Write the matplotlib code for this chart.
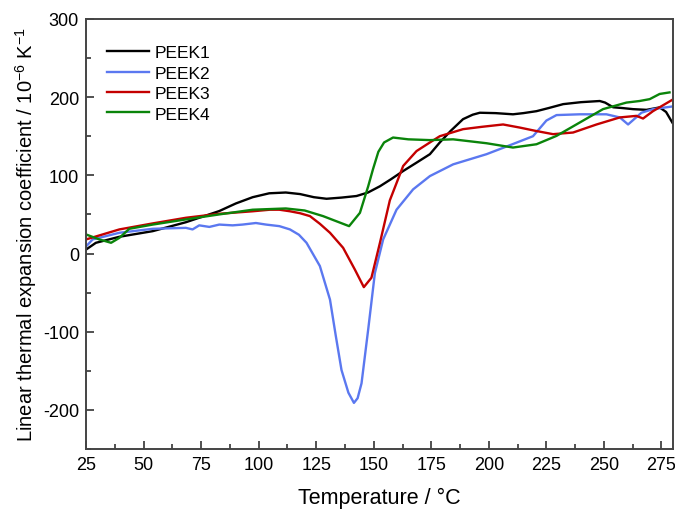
import matplotlib
matplotlib.use("Agg")
import matplotlib.pyplot as plt
from matplotlib.ticker import MultipleLocator

plt.rcParams['font.family'] = ['Liberation Sans', 'DejaVu Sans']
plt.rcParams['mathtext.fontset'] = 'custom'
plt.rcParams['mathtext.rm'] = 'Liberation Sans'
plt.rcParams['axes.unicode_minus'] = False

# Curves (temperature in C, CTE in 1e-6/K)
t1 = [25, 29.3, 39.5, 54, 68.4, 82.9, 90.1, 97.4, 104.6, 111.8, 118, 124, 129.5, 136, 142.5, 147.5, 152.7,
      157.5, 162.8, 168.5, 174.4, 178.7, 183.5, 188.8, 193, 196.1, 203, 210.5, 215, 220.7, 226, 232.3, 240,
      248.2, 250.5, 254, 258, 262.6, 268.5, 274.2, 277, 279.7]
peek1 = [5, 13.7, 21.4, 28.6, 40, 54.3, 64, 72, 77, 78, 76, 72, 70, 71.5, 73.5, 78, 86,
         95, 105.5, 116, 127, 142, 157, 171.8, 177.5, 180, 179.5, 178, 179.5, 182, 186, 191, 193.5,
         195, 193, 187, 186, 184.6, 183.7, 186.8, 181, 167.5]

t2 = [25, 27.9, 39.5, 54, 68.4, 71.3, 74.2, 78.6, 82.9, 88.7, 93, 98.8, 103.2, 109, 113.6, 117.5, 120.8,
      126.6, 131, 133.5, 136, 139, 141.4, 143, 144.7, 147.6, 150.5, 154.1, 159.9, 167.1, 174.4, 184.5, 199,
      210.5, 219.2, 225, 229.4, 239.5, 251.1, 256.9, 260.5, 266.3, 271.3, 279.7]
peek2 = [9, 18, 26.5, 31.6, 32.8, 30.8, 36, 34, 37, 36, 37, 39, 37, 35, 30.8, 24, 13.7,
         -16, -59, -105, -149, -178, -191, -185, -166, -97, -25, 18, 56, 82, 99, 114, 127,
         140, 150, 170, 177, 178, 178, 174, 165, 180, 184.6, 188]

t3 = [25, 39.5, 54, 68.4, 82.9, 97.4, 104.9, 109, 113.6, 118, 122.3, 126.6, 131, 136.7, 141.8, 145.7,
      149, 152.7, 157, 162.8, 168.6, 174.4, 178.7, 188.8, 197, 206.2, 213.5, 220, 227.9, 236.6, 246.8,
      256.9, 264.1, 267, 271.3, 279.7]
peek3 = [18, 30.8, 38.5, 45.7, 50.8, 54, 56, 56, 54, 51.5, 47.8, 38, 26.5, 7.3, -20.5, -43,
         -31, 13.7, 68, 112, 131, 142, 150, 159, 162, 165, 161, 157, 152.6, 154.7, 165,
         174, 176, 172.6, 182, 196.5]

t4 = [25, 30.8, 35.9, 39.5, 43.8, 54, 68.4, 82.9, 97.4, 111.8, 120, 128, 134, 139.3, 144, 147.6,
      149.7, 152, 154.5, 158.4, 165, 174.4, 184.5, 199, 210.5, 220.7, 229.4, 239.5, 249.6, 259.8,
      265.5, 269.9, 274.2, 278.5]
peek4 = [24.4, 18, 13.7, 20, 31.6, 37, 43.6, 50, 56, 57.6, 55, 47.8, 41, 35, 52, 86,
         108, 130, 142, 148.3, 146, 145, 146, 141, 135.5, 139.7, 150.4, 167.5, 184.6, 193,
         195, 197.4, 204, 206]

names = ['PEEK1', 'PEEK2', 'PEEK3', 'PEEK4']
colors = ['#000000', '#5b78f0', '#c40000', '#0a840a']

fig = plt.figure(figsize=(6.75, 5.1), dpi=100)
ax = fig.add_axes([0.1274, 0.1176, 0.8696, 0.8434])

for t, v, name, c in zip([t1, t2, t3, t4], [peek1, peek2, peek3, peek4], names, colors):
    ax.plot(t, v, color=c, lw=1.7, label=name)

ax.set_xlim(25, 280)
ax.set_ylim(-250, 300)
ax.xaxis.set_major_locator(MultipleLocator(25))
ax.xaxis.set_minor_locator(MultipleLocator(12.5))
ax.yaxis.set_major_locator(MultipleLocator(100))
ax.yaxis.set_minor_locator(MultipleLocator(50))
ax.tick_params(which='both', direction='in', labelsize=13, color='#333333', width=1.2)
ax.tick_params(which='major', length=6, pad=5)
ax.tick_params(which='minor', length=3.5)
for s in ax.spines.values():
    s.set_color('#444444')
    s.set_linewidth(1.4)

ax.set_xlabel('Temperature / \u00b0C', fontsize=15.5, labelpad=10)
ax.set_ylabel('Linear thermal expansion coefficient / 10$^{-6}$ K$^{-1}$', fontsize=14.5, labelpad=3)

ax.legend(loc='upper left', bbox_to_anchor=(0.01, 0.975), frameon=False, fontsize=12.5,
          handlelength=2.4, handletextpad=0.3, labelspacing=0.3)

fig.savefig('out.png', dpi=100)
